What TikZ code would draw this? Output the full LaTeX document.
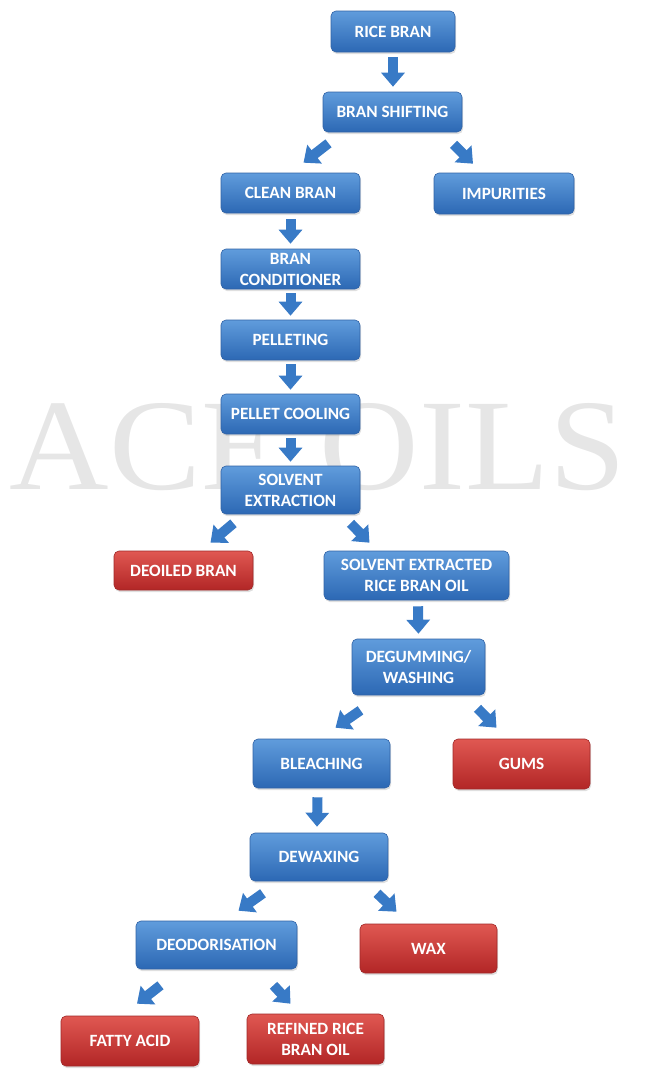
\documentclass[tikz,border=0pt]{standalone}
\usepackage{fontspec}
\newfontfamily\boxfont{Carlito}
\newfontfamily\markfont{Liberation Serif}
\usetikzlibrary{arrows.meta,calc,shadows}
\definecolor{bluetop}{RGB}{96,156,220}
\definecolor{bluebot}{RGB}{44,104,180}
\definecolor{blueline}{RGB}{48,98,165}
\definecolor{redtop}{RGB}{224,88,82}
\definecolor{redbot}{RGB}{178,38,38}
\definecolor{redline}{RGB}{160,40,40}
\definecolor{arrowblue}{RGB}{56,122,198}
\definecolor{markgray}{RGB}{230,230,230}
\begin{document}
\begin{tikzpicture}[x=1pt,y=-1pt,
	stage/.style={rectangle,rounded corners=5pt,draw=blueline,line width=0.6pt,
		top color=bluetop,bottom color=bluebot,text=white,align=center,inner sep=0pt,
		minimum width=139pt,minimum height=40pt,
		font=\boxfont\bfseries\fontsize{17.2}{21}\selectfont,
		drop shadow={opacity=0.25,shadow xshift=1pt,shadow yshift=-2pt}},
	waste/.style={stage,draw=redline,top color=redtop,bottom color=redbot},
	flow/.style={draw=arrowblue,line width=10pt,-{Triangle[length=14pt,width=23pt]}}]
	\useasboundingbox (0,0) rectangle (651,1077);
	\node[text=markgray,xscale=1.06,font=\markfont\fontsize{130}{130}\selectfont] (mark) at (318,447) {ACE OILS};
	\node[stage,minimum width=124pt,minimum height=41pt] (rice) at (393,31.5) {RICE BRAN};
	\node[stage] (shift) at (392.5,112) {BRAN SHIFTING};
	\node[stage] (clean) at (290.5,193) {CLEAN BRAN};
	\node[stage,minimum width=140pt,minimum height=41pt] (imp) at (504,193.5) {IMPURITIES};
	\node[stage] (cond) at (290.5,269) {BRAN\\CONDITIONER};
	\node[stage] (pel) at (290.5,340) {PELLETING};
	\node[stage] (cool) at (290.5,414) {PELLET COOLING};
	\node[stage,minimum height=48pt] (solv) at (290.5,490) {SOLVENT\\EXTRACTION};
	\node[waste,minimum height=39pt] (deoiled) at (183.5,570.5) {DEOILED BRAN};
	\node[stage,minimum width=185pt,minimum height=49pt] (serbo) at (416.5,575.5) {SOLVENT EXTRACTED\\RICE BRAN OIL};
	\node[stage,minimum width=133pt,minimum height=56pt] (degum) at (418.5,667) {DEGUMMING/\\WASHING};
	\node[stage,minimum width=137pt,minimum height=49pt] (bleach) at (321.5,763.5) {BLEACHING};
	\node[waste,minimum width=137pt,minimum height=50pt] (gums) at (521.5,764) {GUMS};
	\node[stage,minimum width=138pt,minimum height=48pt] (dewax) at (319,857) {DEWAXING};
	\node[stage,minimum width=161pt,minimum height=48pt] (deod) at (216.5,945) {DEODORISATION};
	\node[waste,minimum width=137pt,minimum height=49pt] (wax) at (428.5,948.5) {WAX};
	\node[waste,minimum width=138pt,minimum height=50pt] (fatty) at (130,1041) {FATTY ACID};
	\node[waste,minimum width=137pt,minimum height=50pt] (refined) at (315.5,1039) {REFINED RICE\\BRAN OIL};
	\draw[flow] ($(rice.south)+(0,5)$) -- ($(shift.north)+(0.5,-5)$);
	\draw[flow] ($(shift.south)+(-64,11)$) -- ($(clean.north)+(13,-10)$);
	\draw[flow] ($(shift.south)+(61,12)$) -- ($(imp.north)+(-31,-9)$);
	\draw[flow] ($(clean.south)+(0,6)$) -- ($(cond.north)+(0,-5)$);
	\draw[flow] ($(cond.south)+(0,4)$) -- ($(pel.north)+(0,-4)$);
	\draw[flow] ($(pel.south)+(0,4)$) -- ($(cool.north)+(0,-4)$);
	\draw[flow] ($(cool.south)+(0,4)$) -- ($(solv.north)+(0,-4)$);
	\draw[flow] ($(solv.south)+(-57,9)$) -- ($(deoiled.north)+(27,-8)$);
	\draw[flow] ($(solv.south)+(60,9)$) -- ($(serbo.north)+(-47,-8)$);
	\draw[flow] ($(serbo.south)+(1.5,6)$) -- ($(degum.north)+(0,-5)$);
	\draw[flow] ($(degum.south)+(-58,15)$) -- ($(bleach.north)+(14,-11)$);
	\draw[flow] ($(degum.south)+(59,13)$) -- ($(gums.north)+(-25,-11)$);
	\draw[flow] ($(bleach.south)+(-4,9)$) -- ($(dewax.north)+(-2,-6)$);
	\draw[flow] ($(dewax.south)+(-56,12)$) -- ($(deod.north)+(22,-10)$);
	\draw[flow] ($(dewax.south)+(58,12)$) -- ($(wax.north)+(-32,-12)$);
	\draw[flow] ($(deod.south)+(-56,16)$) -- ($(fatty.north)+(7,-12)$);
	\draw[flow] ($(deod.south)+(57,16)$) -- ($(refined.north)+(-25,-10)$);
\end{tikzpicture}
\end{document}
